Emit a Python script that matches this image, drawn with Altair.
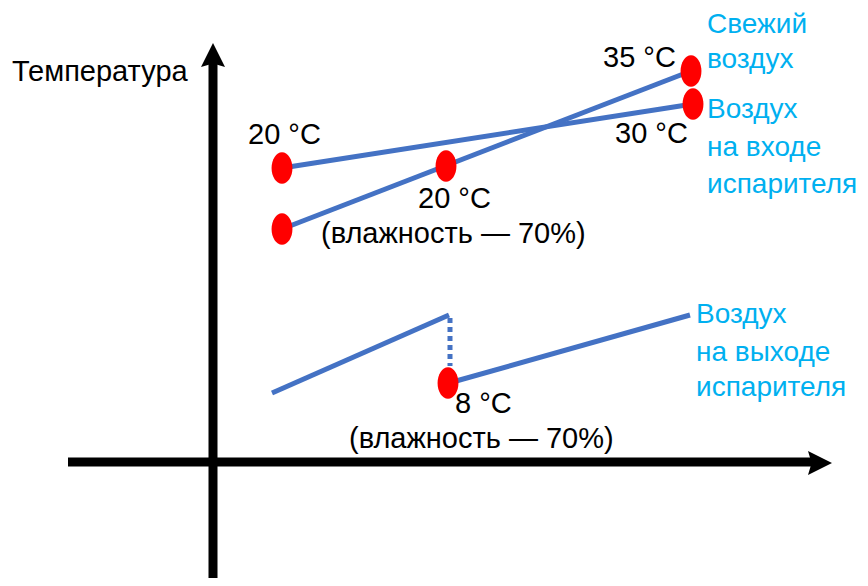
import altair as alt
import pandas as pd

# Diagram coordinate system (x grows right, y grows downward)
X_DOMAIN = [8, 860]
Y_DOMAIN = [8, 578]

# Solid blue segments
seg_x1 = [282, 282, 272, 449]
seg_y1 = [168, 229, 393, 383]
seg_x2 = [693, 691, 449, 690]
seg_y2 = [104, 71, 315, 315]

# Dotted vertical connector
dot_seg_x = [450]
dot_seg_y1 = [318]
dot_seg_y2 = [366]

# Red state points
pt_x = [282, 282, 446, 691, 693, 448]
pt_y = [168, 229, 166, 71, 104, 383]

# Black labels
lab_text = ["Температура", "20 °C", "20 °C", "(влажность — 70%)", "35 °C", "30 °C",
            "8 °C", "(влажность — 70%)"]
lab_x = [12, 248, 418, 321, 603, 615, 455, 349]
lab_y = [81, 144, 208, 243, 67, 143, 413, 448]

# Blue labels
blue_text = ["Свежий", "воздух", "Воздух", "на входе", "испарителя",
             "Воздух", "на выходе", "испарителя"]
blue_x = [707, 707, 707, 707, 707, 696, 696, 696]
blue_y = [33, 68, 118, 156, 193, 323, 361, 396]

# Axes
axis_x1 = [68, 213]
axis_y1 = [462, 586]
axis_x2 = [812, 213]
axis_y2 = [462, 62]
arrow_x = [820, 213]
arrow_y = [463, 55]

xs = alt.Scale(domain=X_DOMAIN, nice=False, zero=False)
ys = alt.Scale(domain=Y_DOMAIN, nice=False, zero=False, reverse=True)

BLUE = "#4472C4"
CYAN = "#00B0F0"
FONT = "Liberation Sans"
FS = 29
FS_BLUE = 28

segs = pd.DataFrame({"x": seg_x1, "y": seg_y1, "x2": seg_x2, "y2": seg_y2})
seg_layer = alt.Chart(segs).mark_rule(color=BLUE, strokeWidth=5).encode(
    x=alt.X("x:Q", scale=xs, axis=None),
    y=alt.Y("y:Q", scale=ys, axis=None),
    x2="x2:Q", y2="y2:Q")

dseg = pd.DataFrame({"x": dot_seg_x, "y": dot_seg_y1, "y2": dot_seg_y2})
dseg_layer = alt.Chart(dseg).mark_rule(color=BLUE, strokeWidth=5, strokeDash=[5, 4]).encode(
    x=alt.X("x:Q", scale=xs, axis=None),
    y=alt.Y("y:Q", scale=ys, axis=None),
    y2="y2:Q")

ax = pd.DataFrame({"x": axis_x1, "y": axis_y1, "x2": axis_x2, "y2": axis_y2})
axis_layer = alt.Chart(ax).mark_rule(color="black", strokeWidth=9).encode(
    x=alt.X("x:Q", scale=xs, axis=None),
    y=alt.Y("y:Q", scale=ys, axis=None),
    x2="x2:Q", y2="y2:Q")

arr = pd.DataFrame({"x": arrow_x, "y": arrow_y, "dir": ["right", "up"]})
arr_right = alt.Chart(arr[arr["dir"] == "right"]).mark_point(
    shape="M1,0 L-1,-1 L-0.7,0 L-1,1 Z", size=576, filled=True, opacity=1,
    color="black", strokeWidth=0).encode(
    x=alt.X("x:Q", scale=xs, axis=None), y=alt.Y("y:Q", scale=ys, axis=None))
arr_up = alt.Chart(arr[arr["dir"] == "up"]).mark_point(
    shape="M0,-1 L1,1 L0,0.7 L-1,1 Z", size=576, filled=True, opacity=1,
    color="black", strokeWidth=0).encode(
    x=alt.X("x:Q", scale=xs, axis=None), y=alt.Y("y:Q", scale=ys, axis=None))

pts = pd.DataFrame({"x": pt_x, "y": pt_y})
pt_layer = alt.Chart(pts).mark_point(
    shape="M0,-1 A0.66,1 0 1,1 0,1 A0.66,1 0 1,1 0,-1 Z", size=1000,
    filled=True, opacity=1, color="#FF0000", strokeWidth=0).encode(
    x=alt.X("x:Q", scale=xs, axis=None), y=alt.Y("y:Q", scale=ys, axis=None))

labs = pd.DataFrame({"t": lab_text, "x": lab_x, "y": lab_y})
lab_layer = alt.Chart(labs).mark_text(
    align="left", baseline="alphabetic", font=FONT, fontSize=FS, color="black").encode(
    x=alt.X("x:Q", scale=xs, axis=None), y=alt.Y("y:Q", scale=ys, axis=None), text="t:N")

blabs = pd.DataFrame({"t": blue_text, "x": blue_x, "y": blue_y})
blab_layer = alt.Chart(blabs).mark_text(
    align="left", baseline="alphabetic", font=FONT, fontSize=FS_BLUE, color=CYAN).encode(
    x=alt.X("x:Q", scale=xs, axis=None), y=alt.Y("y:Q", scale=ys, axis=None), text="t:N")

chart = alt.layer(
    axis_layer, arr_right, arr_up, seg_layer, dseg_layer, pt_layer, lab_layer, blab_layer
).properties(
    width=852, height=570, padding=0, background="white",
    autosize=alt.AutoSizeParams(type="none")
).configure_view(stroke=None)

chart.save("out.html", embed_options={"renderer": "svg", "actions": False})
